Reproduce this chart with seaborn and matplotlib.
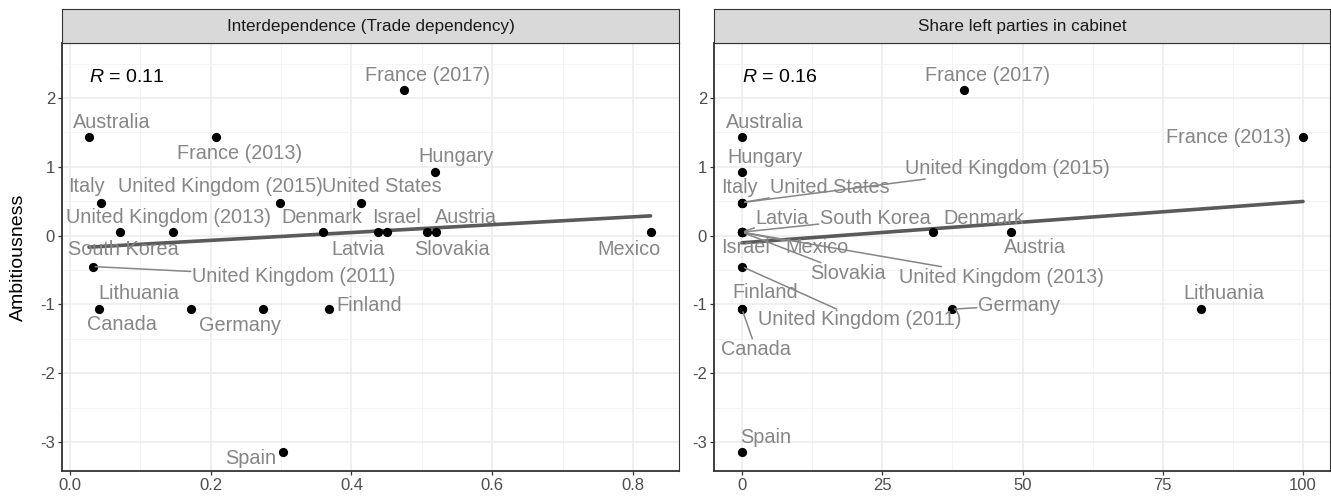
import matplotlib
matplotlib.use("Agg")
import matplotlib.pyplot as plt
import seaborn as sns
import pandas as pd

# ---------------- data ----------------
countries = [
    "Australia", "France (2013)", "France (2017)", "Hungary", "Italy",
    "United Kingdom (2015)", "United States", "South Korea",
    "United Kingdom (2013)", "Denmark", "Latvia", "Israel", "Slovakia",
    "Austria", "Mexico", "United Kingdom (2011)", "Canada", "Lithuania",
    "Germany", "Finland", "Spain",
]
ambitiousness = [
    1.43, 1.43, 2.11, 0.92, 0.48,
    0.48, 0.48, 0.05,
    0.05, 0.05, 0.05, 0.05, 0.05,
    0.05, 0.05, -0.45, -1.07, -1.07,
    -1.07, -1.07, -3.15,
]
trade_dependency = [
    0.027, 0.207, 0.475, 0.518, 0.044,
    0.299, 0.413, 0.0705,
    0.146, 0.360, 0.438, 0.450, 0.508,
    0.520, 0.825, 0.032, 0.041, 0.172,
    0.274, 0.3675, 0.303,
]
left_share = [
    0, 100, 39.6, 0, 0,
    0, 0, 0,
    0, 34.0, 0, 0, 0,
    47.9, 0, 0, 0, 81.8,
    37.4, 0, 0,
]
panel_titles = ["Interdependence (Trade dependency)", "Share left parties in cabinet"]
r_labels = ["0.11", "0.16"]
y_ticks = [-3, -2, -1, 0, 1, 2]
x_ticks_trade = [0.0, 0.2, 0.4, 0.6, 0.8]
x_ticklabels_trade = ["0.0", "0.2", "0.4", "0.6", "0.8"]
x_ticks_left = [0, 25, 50, 75, 100]
x_ticklabels_left = ["0", "25", "50", "75", "100"]

df = pd.DataFrame({"country": countries, "amb": ambitiousness,
                   "trade": trade_dependency, "left": left_share})

# ---------------- label layout (repel-like offsets in pixels) ----------------
offsets_trade = {
    "Australia": (23, 15, False), "France (2013)": (24, -16, False),
    "France (2017)": (23, 15, False), "Hungary": (22, 16, False),
    "Italy": (-15, 16, False), "United Kingdom (2015)": (-60, 16, False),
    "United States": (21, 16, False), "United Kingdom (2013)": (-4, 15, False),
    "Denmark": (-2, 15, False), "Israel": (10, 15, False),
    "Austria": (30, 15, False), "South Korea": (4, -17, False),
    "Latvia": (-20, -17, False), "Slovakia": (24, -17, False),
    "Mexico": (-22, -17, False), "United Kingdom (2011)": (201, -10, True),
    "Lithuania": (-52, 16, False), "Canada": (23, -15, False),
    "Germany": (-23, -16, False), "Finland": (41, 4, False),
    "Spain": (-33, -6, False),
}
offsets_left = {
    "Australia": (23, 15, False), "France (2013)": (-74, 0, False),
    "France (2017)": (23, 15, False), "Hungary": (23, 15, False),
    "Italy": (-3, 15, False), "United Kingdom (2015)": (265, 34, True),
    "United States": (88, 15, True), "United Kingdom (2013)": (260, -45, True),
    "Denmark": (51, 14, False), "Israel": (4, -15, False),
    "Austria": (24, -15, False), "South Korea": (133, 14, True),
    "Latvia": (40, 14, True), "Slovakia": (106, -41, True),
    "Mexico": (75, -15, True), "United Kingdom (2011)": (118, -53, True),
    "Lithuania": (23, 16, False), "Canada": (14, -40, True),
    "Germany": (67, 4, True), "Finland": (23, 17, False),
    "Spain": (24, 15, False),
}

# ---------------- style ----------------
sns.set_theme(style="white")
plt.rcParams["font.family"] = ["Liberation Sans", "DejaVu Sans"]
plt.rcParams["mathtext.fontset"] = "custom"
plt.rcParams["mathtext.it"] = "Liberation Sans:italic"
plt.rcParams["mathtext.rm"] = "Liberation Sans"

W, H = 1331, 498
fig = plt.figure(figsize=(W / 100, H / 100), dpi=100)


def rect(l, t, r, b):
    return [l / W, 1 - b / H, (r - l) / W, (b - t) / H]


panels = [
    dict(col="trade", title=panel_titles[0], r=r_labels[0], box=(62, 43, 679, 471),
         xlim=(-0.01137, 0.8654), ticks=x_ticks_trade, ticklabels=x_ticklabels_trade,
         offsets=offsets_trade),
    dict(col="left", title=panel_titles[1], r=r_labels[1], box=(714, 43, 1330, 471),
         xlim=(-4.99, 104.81), ticks=x_ticks_left, ticklabels=x_ticklabels_left,
         offsets=offsets_left),
]

label_color = "#868686"
for p in panels:
    l, t, r, b = p["box"]
    ax = fig.add_axes(rect(l, t, r, b))
    ax.set_facecolor("white")
    ax.set_xlim(*p["xlim"])
    ax.set_ylim(-3.4215, 2.7994)
    ax.set_xticks(p["ticks"])
    ax.set_xticklabels(p["ticklabels"])
    xt = p["ticks"]
    ax.set_xticks([(xt[i] + xt[i + 1]) / 2 for i in range(len(xt) - 1)], minor=True)
    ax.set_yticks(y_ticks)
    ax.set_yticklabels([str(v) for v in y_ticks])
    ax.set_yticks([v + 0.5 for v in y_ticks[:-1]] + [2.5], minor=True)
    ax.grid(True, which="major", color="#EBEBEB", lw=1.1, zorder=0)
    ax.grid(True, which="minor", color="#F3F3F3", lw=0.6, zorder=0)
    ax.set_axisbelow(True)
    ax.tick_params(axis="both", which="major", length=3, width=0.9, color="#333333",
                   labelsize=12, labelcolor="#4D4D4D", pad=2, direction="out",
                   bottom=True, left=True)
    ax.tick_params(axis="both", which="minor", length=0)
    for side, sp in ax.spines.items():
        sp.set_color("#333333")
        sp.set_linewidth(1.3 if side in ("left", "bottom") else 0.8)

    sns.scatterplot(data=df, x=p["col"], y="amb", ax=ax, color="black", s=44,
                    linewidth=0, zorder=3)
    sns.regplot(data=df, x=p["col"], y="amb", ax=ax, scatter=False, ci=None,
                color="#5A5A5A", line_kws=dict(lw=2.6, zorder=2))
    ax.set_xlabel("")
    ax.set_ylabel("")

    for name, xv, yv in zip(df["country"], df[p["col"]], df["amb"]):
        dx, dy, seg = p["offsets"][name]
        kw = dict(textcoords="offset pixels", ha="center", va="center",
                  fontsize=14.3, color=label_color, zorder=4,
                  bbox=dict(boxstyle="square,pad=0.05", fc="none", ec="none"))
        if seg:
            kw["arrowprops"] = dict(arrowstyle="-", color=label_color, lw=1.1,
                                    shrinkA=0, shrinkB=2)
        ax.annotate(name, xy=(xv, yv), xytext=(dx, dy), **kw)

    ax.text(df[p["col"]].min(), 2.30, r"$\it{R}$ = " + p["r"], ha="left", va="center",
            fontsize=14, color="black", zorder=5)

    sax = fig.add_axes(rect(l, 9, r, 43))
    sax.set_facecolor("#D9D9D9")
    sax.set_xticks([])
    sax.set_yticks([])
    for sp in sax.spines.values():
        sp.set_color("#333333")
        sp.set_linewidth(0.8)
    sax.text(0.5, 0.5, p["title"], ha="center", va="center", fontsize=12.3,
             color="#1A1A1A", transform=sax.transAxes)

fig.text(18 / W, 1 - 257 / H, "Ambitiousness", rotation=90, ha="center", va="center",
         fontsize=14, color="black")

fig.savefig("out.png", dpi=100)
